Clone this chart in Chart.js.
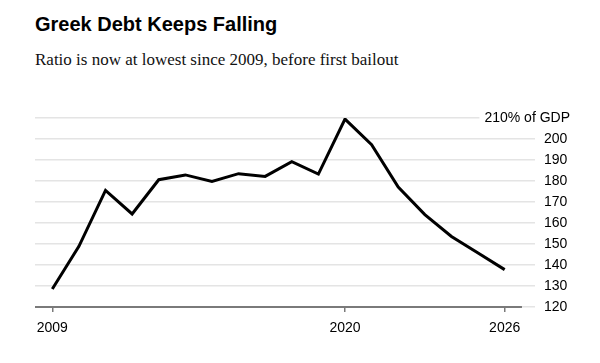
<!DOCTYPE html>
<html>
<head>
<meta charset="utf-8">
<script src="https://cdn.jsdelivr.net/npm/chart.js@4.4.1/dist/chart.umd.min.js"></script>
<style>
    html, body { margin: 0; padding: 0; background: #fff; }
    #wrap { position: relative; width: 600px; height: 363px; overflow: hidden; }
    #title {
        position: absolute; left: 35px; top: 13.6px;
        font: bold 20px "Liberation Sans", Arial, sans-serif; line-height: 20px;
        color: #000; white-space: nowrap;
    }
    #subtitle {
        position: absolute; left: 35px; top: 51px;
        font: 17px "Liberation Serif", "Times New Roman", serif; line-height: 17px;
        color: #111; white-space: nowrap;
    }
    canvas { position: absolute; left: 0; top: 0; }
</style>
</head>
<body>
<div id="wrap">
    <div id="title">Greek Debt Keeps Falling</div>
    <div id="subtitle">Ratio is now at lowest since 2009, before first bailout</div>
    <canvas id="chart" width="600" height="363"></canvas>
</div>
<script>
// debt-to-GDP ratio, percent
const years = [2009, 2010, 2011, 2012, 2013, 2014, 2015, 2016, 2017,
               2018, 2019, 2020, 2021, 2022, 2023, 2024, 2025, 2026];
const debtRatio = [128.6, 148.9, 175.5, 164.3, 180.6, 182.9, 179.8, 183.5, 182.2,
                   189.2, 183.3, 209.5, 197.3, 177.1, 164.0, 153.6, 145.7, 137.8];

const xTickYears = [2009, 2020, 2026];
const yTicks = [120, 130, 140, 150, 160, 170, 180, 190, 200, 210];
const topTickLabel = "210% of GDP";

const xMin = 2008.35;
const xAxisEnd = 2026.65;
const xMax = 2027.14;

const tickFont = { family: "'Liberation Sans', Arial, sans-serif", size: 14 };

const axisLinePlugin = {
    id: "axisLine",
    afterDatasetsDraw(chart) {
        const { ctx, scales } = chart;
        const x = scales.x;
        const y = scales.y;
        const yBottom = y.getPixelForValue(yTicks[0]);

        // bottom axis line stops short of the gridlines
        ctx.save();
        ctx.strokeStyle = "#7a7a7a";
        ctx.lineWidth = 2;
        ctx.beginPath();
        ctx.moveTo(x.getPixelForValue(xMin), yBottom);
        ctx.lineTo(x.getPixelForValue(xAxisEnd), yBottom);
        ctx.stroke();

        // top label, right-aligned with a white box over the gridline
        const top = yTicks[yTicks.length - 1];
        const yTop = y.getPixelForValue(top);
        ctx.font = "14px 'Liberation Sans', Arial, sans-serif";
        const w = ctx.measureText(topTickLabel).width;
        const right = 570;
        ctx.fillStyle = "#fff";
        ctx.fillRect(right - w - 5, yTop - 9, w + 10, 18);
        ctx.fillStyle = "#000";
        ctx.textAlign = "right";
        ctx.textBaseline = "middle";
        ctx.fillText(topTickLabel, right, yTop);
        ctx.restore();
    },
};

new Chart(document.getElementById("chart").getContext("2d"), {
    type: "line",
    data: {
        datasets: [{
            label: "Debt",
            data: years.map((year, i) => ({ x: year, y: debtRatio[i] })),
            borderColor: "#000",
            borderWidth: 3,
            pointRadius: 0,
            tension: 0,
            fill: false,
        }],
    },
    options: {
        responsive: false,
        animation: false,
        layout: { padding: { left: 35, top: 118, right: 0, bottom: 20 } },
        plugins: {
            legend: { display: false },
            tooltip: { enabled: false },
        },
        scales: {
            x: {
                type: "linear",
                min: xMin,
                max: xMax,
                afterBuildTicks: (scale) => {
                    scale.ticks = xTickYears.map((value) => ({ value }));
                },
                afterFit: (scale) => {
                    scale.height = 36;
                },
                border: { display: false },
                grid: {
                    drawOnChartArea: false,
                    drawTicks: true,
                    tickLength: 5,
                    color: "#7a7a7a",
                    lineWidth: 1.5,
                },
                ticks: {
                    autoSkip: false,
                    maxRotation: 0,
                    padding: 8,
                    color: "#000",
                    font: tickFont,
                    callback: (value) => String(value),
                },
            },
            y: {
                position: "right",
                min: yTicks[0],
                max: yTicks[yTicks.length - 1],
                afterBuildTicks: (scale) => {
                    scale.ticks = yTicks.map((value) => ({ value }));
                },
                afterFit: (scale) => {
                    scale.width = 65;
                },
                border: { display: false },
                grid: {
                    color: "#e4e4e4",
                    lineWidth: 1.5,
                    drawTicks: false,
                },
                ticks: {
                    padding: 9,
                    color: "#000",
                    font: tickFont,
                    callback: (value) => (value === yTicks[yTicks.length - 1] ? "" : String(value)),
                },
            },
        },
    },
    plugins: [axisLinePlugin],
});
</script>
</body>
</html>
